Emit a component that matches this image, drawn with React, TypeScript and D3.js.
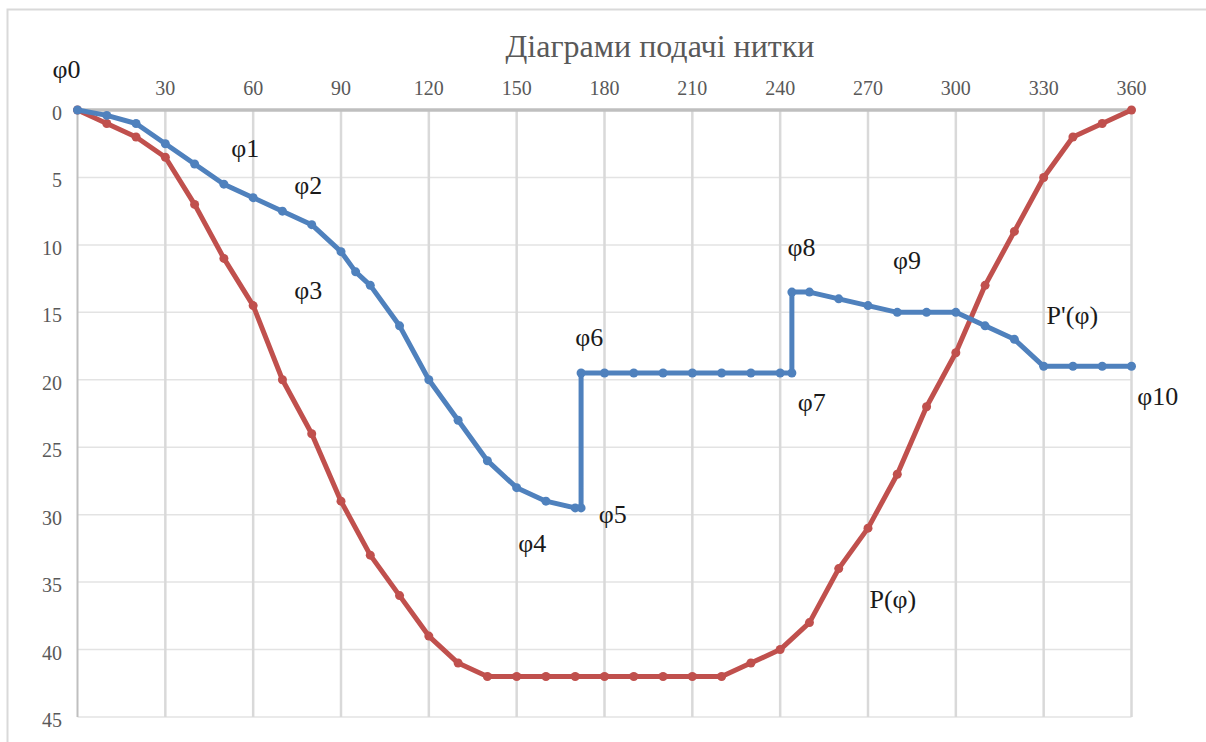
import * as React from 'react';
import * as d3 from 'd3';

// P'(φ) — blue
const blueX = [0, 10, 20, 30, 40, 50, 60, 70, 80, 90, 95, 100, 110, 120, 130, 140, 150, 160, 170, 172,
    172, 180, 190, 200, 210, 220, 230, 240, 244,
    244, 250, 260, 270, 280, 290, 300, 310, 320, 330, 340, 350, 360];
const blueY = [0, 0.4, 1, 2.5, 4, 5.5, 6.5, 7.5, 8.5, 10.5, 12, 13, 16, 20, 23, 26, 28, 29, 29.5, 29.5,
    19.5, 19.5, 19.5, 19.5, 19.5, 19.5, 19.5, 19.5, 19.5,
    13.5, 13.5, 14, 14.5, 15, 15, 15, 16, 17, 19, 19, 19, 19];

// P(φ) — red
const redX = [0, 10, 20, 30, 40, 50, 60, 70, 80, 90, 100, 110, 120, 130, 140, 150, 160, 170, 180, 190, 200, 210, 220,
    230, 240, 250, 260, 270, 280, 290, 300, 310, 320, 330, 340, 350, 360];
const redY = [0, 1, 2, 3.5, 7, 11, 14.5, 20, 24, 29, 33, 36, 39, 41, 42, 42, 42, 42, 42, 42, 42, 42, 42,
    41, 40, 38, 34, 31, 27, 22, 18, 13, 9, 5, 2, 1, 0];

const xTicks = [30, 60, 90, 120, 150, 180, 210, 240, 270, 300, 330, 360];
const yTicks = [0, 5, 10, 15, 20, 25, 30, 35, 40, 45];

const title = 'Діаграми подачі нитки';

// annotation labels: text and data position (x in degrees, y in units)
const labelText = ['φ0', 'φ1', 'φ2', 'φ3', 'φ4', 'φ5', 'φ6', 'φ7', 'φ8', 'φ9', 'φ10', "P'(φ)", 'P(φ)'];
const labelX = [-8.5, 52.5, 74, 74, 150.5, 178, 170, 246, 242.5, 278.5, 362, 331, 270.5];
const labelY = [-2.4, 3.5, 6.2, 14, 32.8, 30.6, 17.5, 22.3, 10.8, 11.8, 21.9, 15.9, 36.9];

const W = 1206, H = 742;
const x = d3.scaleLinear().domain([0, 360]).range([77.5, 1131.5]);
const y = d3.scaleLinear().domain([0, 45]).range([110, 717]);

const BLUE = '#4f81bd';
const RED = '#c0504d';
const FONT = 'Liberation Serif, Tinos, Times New Roman, DejaVu Serif, serif';

function Series(props: { xs: number[], ys: number[], color: string }) {
    const pts: [number, number][] = props.xs.map((v, i) => [v, props.ys[i]]);
    const line = d3.line<[number, number]>().x(d => x(d[0])).y(d => y(d[1]));
    return <g>
        <path d={line(pts) || ''} fill="none" stroke={props.color} strokeWidth={5} strokeLinejoin="round" />
        {pts.map((d, i) => <circle key={i} cx={x(d[0])} cy={y(d[1])} r={4.5} fill={props.color} />)}
    </g>;
}

export default function App() {
    return <svg width={W} height={H} style={{ position: 'absolute', left: 0, top: 0, background: '#fff', fontFamily: FONT }}>
        <rect x={7.5} y={9.5} width={W} height={H} fill="#fff" stroke="#d9d9d9" strokeWidth={2} />
        <text x={660} y={57} textAnchor="middle" fontSize={32} fill="#595959">{title}</text>

        {/* horizontal gridlines */}
        {yTicks.map(t => <line key={'h' + t} x1={x(0)} x2={x(360)} y1={y(t)} y2={y(t)} stroke="#e3e3e3" strokeWidth={1.5} />)}
        {/* vertical gridlines */}
        {xTicks.map(t => <line key={'v' + t} x1={x(t)} x2={x(t)} y1={y(0)} y2={y(45)} stroke="#d9d9d9" strokeWidth={2.5} />)}

        {/* axes */}
        <line x1={x(0)} x2={x(0)} y1={y(0)} y2={y(45)} stroke="#bfbfbf" strokeWidth={2} />
        <line x1={x(0)} x2={x(360)} y1={y(0)} y2={y(0)} stroke="#bfbfbf" strokeWidth={3.5} />

        {xTicks.map(t => <text key={'xt' + t} x={x(t)} y={95} textAnchor="middle" fontSize={20} fill="#595959">{t}</text>)}
        {yTicks.map(t => <text key={'yt' + t} x={62} y={y(t) + 10} textAnchor="end" fontSize={20} fill="#595959">{t}</text>)}

        <Series xs={redX} ys={redY} color={RED} />
        <Series xs={blueX} ys={blueY} color={BLUE} />

        {labelText.map((s, i) => <text key={'l' + i} x={x(labelX[i])} y={y(labelY[i])} fontSize={26} fill="#1a1a1a">{s}</text>)}
    </svg>;
}
